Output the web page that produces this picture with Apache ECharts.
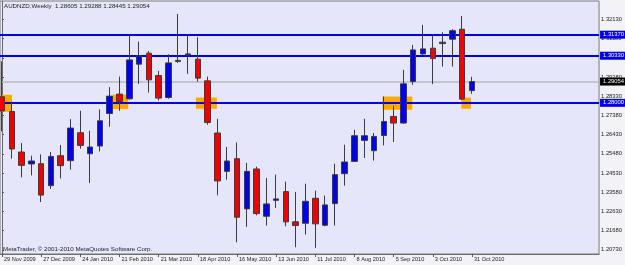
<!DOCTYPE html>
<html>
<head>
<meta charset="utf-8">
<script src="https://cdn.jsdelivr.net/npm/echarts@6/dist/echarts.min.js"></script>
<style>
html, body { margin: 0; padding: 0; background: #f3f3f7; }
#chart { width: 625px; height: 265px; }
</style>
</head>
<body>
<div id="chart"></div>
<script>
// weekly AUDNZD, 29 Nov 2009 .. 31 Oct 2010
const opens  = [1.2830, 1.27573, 1.25569, 1.24977, 1.24992, 1.23906, 1.25387, 1.25140, 1.26522, 1.25485,
                1.25865, 1.27474, 1.28432, 1.28200, 1.29913, 1.30456, 1.29350, 1.28264, 1.30051, 1.30372,
                1.30160, 1.29089, 1.26507, 1.24612, 1.25239, 1.22756, 1.24730, 1.22391, 1.23180, 1.23610,
                1.22114, 1.22045, 1.23279, 1.21946, 1.23018, 1.24498, 1.25105, 1.26142, 1.25634, 1.26389,
                1.27327, 1.27001, 1.29054, 1.30421, 1.30703, 1.30930, 1.31147, 1.31640, 1.28605];
const closes = [1.2760, 1.25717, 1.24908, 1.25125, 1.23437, 1.25352, 1.24893, 1.26754, 1.25895, 1.25816,
                1.27114, 1.28333, 1.28067, 1.30125, 1.30322, 1.29138, 1.28235, 1.29977, 1.30100, 1.30421,
                1.29222, 1.27030, 1.24138, 1.25125, 1.22341, 1.24612, 1.22524, 1.23003, 1.23250, 1.22114,
                1.21932, 1.23131, 1.22016, 1.22953, 1.24449, 1.25076, 1.26374, 1.26374, 1.26339, 1.27080,
                1.27001, 1.28940, 1.30619, 1.30668, 1.30189, 1.30999, 1.31571, 1.28185, 1.29054];
const lows   = [1.2659, 1.25239, 1.24316, 1.24414, 1.23092, 1.23743, 1.24266, 1.24696, 1.25732, 1.24039,
                1.25599, 1.26818, 1.27608, 1.28151, 1.28940, 1.28511, 1.28116, 1.28200, 1.29977, 1.29434,
                1.29054, 1.26917, 1.23427, 1.24202, 1.21108, 1.21868, 1.22440, 1.21932, 1.22805, 1.21897,
                1.20861, 1.21488, 1.20831, 1.21897, 1.21932, 1.23906, 1.25105, 1.25273, 1.25140, 1.25895,
                1.26063, 1.26966, 1.28891, 1.30372, 1.28926, 1.29794, 1.29794, 1.28151, 1.28445];
const highs  = [1.3005, 1.28067, 1.26014, 1.25387, 1.25451, 1.25569, 1.25915, 1.27198, 1.27608, 1.26621,
                1.27672, 1.28778, 1.29301, 1.31359, 1.31028, 1.30569, 1.29582, 1.30406, 1.32396, 1.31310,
                1.31245, 1.29301, 1.27213, 1.25816, 1.26043, 1.25026, 1.24844, 1.24286, 1.24449, 1.24103,
                1.23595, 1.24005, 1.23659, 1.23412, 1.24992, 1.25930, 1.26670, 1.27213, 1.26507, 1.28314,
                1.27855, 1.29631, 1.30865, 1.31853, 1.31310, 1.31492, 1.31640, 1.32297, 1.29288];

// one date label every 4 bars
const dateLabels = ['29 Nov 2009', '27 Dec 2009', '24 Jan 2010', '21 Feb 2010', '21 Mar 2010',
                    '18 Apr 2010', '16 May 2010', '13 Jun 2010', '11 Jul 2010', '8 Aug 2010',
                    '5 Sep 2010', '3 Oct 2010', '31 Oct 2010'];
const priceTicks = [1.20730, 1.21680, 1.22630, 1.23580, 1.24530, 1.25480, 1.26430,
                    1.27380, 1.28330, 1.29280, 1.30230, 1.31180, 1.32130];

// horizontal levels and the last bid
const levels = [1.31370, 1.30330, 1.28000];
const lastPrice = 1.29054;

// orange zones: bar index from/to, price top/bottom
const zoneFrom   = [0, 11.3, 19.8, 38.85, 46.9];
const zoneTo     = [1.02, 12.9, 21.95, 41.9, 47.9];
const zoneTop    = [1.28398, 1.28412, 1.28264, 1.28314, 1.28264];
const zoneBottom = [1.27558, 1.27692, 1.27707, 1.27657, 1.27707];

const FONT = 'Liberation Sans';
const FS = 5.6;

let candles = opens.map((o, i) => [i, o, closes[i], lows[i], highs[i]]);
let tickIdx = dateLabels.map((d, i) => i * 4);
let zones = zoneFrom.map((x0, i) => [
  { coord: [x0, zoneTop[i]] },
  { coord: [zoneTo[i], zoneBottom[i]] }
]);

let myChart = echarts.init(document.getElementById('chart'));
myChart.setOption({
  animation: false,
  backgroundColor: '#f3f3f7',
  textStyle: { fontFamily: FONT },
  title: [{
    text: 'AUDNZD,Weekly  1.28605 1.29288 1.28445 1.29054',
    left: 4, top: 3, padding: 0,
    textStyle: { fontSize: 6.2, fontWeight: 'normal', color: '#222', fontFamily: FONT }
  }, {
    text: 'MetaTrader, © 2001-2010 MetaQuotes Software Corp.',
    left: 3, top: 246, padding: 0,
    textStyle: { fontSize: 6.2, fontWeight: 'normal', color: '#222', fontFamily: FONT }
  }],
  grid: {
    left: 0, top: 1, right: 23, bottom: 11,
    show: true, backgroundColor: '#e6e6fa', borderColor: '#7a7a7a', borderWidth: 1
  },
  xAxis: {
    type: 'value', min: -0.2033, max: 60.9756,
    splitLine: { show: false },
    axisLine: { show: true, lineStyle: { color: '#6e6e6e' } },
    axisTick: { show: true, customValues: tickIdx, length: 3, lineStyle: { color: '#555' } },
    axisLabel: {
      customValues: tickIdx, align: 'left', margin: 2, padding: [0, 0, 0, 2],
      fontSize: FS, color: '#222',
      formatter: v => dateLabels[Math.round(v / 4)] || ''
    }
  },
  yAxis: {
    type: 'value', position: 'right', min: 1.20525, max: 1.33037,
    splitLine: { show: false },
    axisLine: { show: true, lineStyle: { color: '#6e6e6e' } },
    axisTick: { show: true, customValues: priceTicks, length: 2, lineStyle: { color: '#555' } },
    axisLabel: {
      customValues: priceTicks, margin: 2, padding: [0, 0, 4, 0],
      fontSize: 5.8, color: '#222',
      formatter: v => v.toFixed(5)
    }
  },
  series: [{
    // zones and level lines sit behind the candles
    type: 'line', data: [], silent: true,
    markArea: {
      silent: true, z: 1,
      itemStyle: { color: '#ffaa00', opacity: 1 },
      data: zones
    },
    markLine: {
      silent: true, z: 1, symbol: 'none', precision: 5,
      data: [
        ...levels.map(v => ({
          yAxis: v,
          lineStyle: { color: '#0000e6', width: 2, type: 'solid' },
          label: { backgroundColor: '#0000e6', color: '#fff' }
        })),
        {
          yAxis: lastPrice,
          lineStyle: { color: '#b8b8c0', width: 1.5, type: 'solid' },
          label: { backgroundColor: '#000', color: '#fff' }
        }
      ],
      label: {
        position: 'end', distance: 1, fontSize: 5.8, fontFamily: FONT,
        padding: [1, 4, 1, 3], formatter: p => p.value.toFixed(5)
      }
    }
  }, {
    type: 'candlestick',
    z: 3,
    barWidth: 6,
    dimensions: ['idx', 'open', 'close', 'lowest', 'highest'],
    encode: { x: 'idx', y: ['open', 'close', 'lowest', 'highest'] },
    itemStyle: {
      color: '#0000f0', color0: '#f00000',
      borderColor: '#3c3c3c', borderColor0: '#3c3c3c', borderWidth: 1
    },
    data: candles
  }]
});
</script>
</body>
</html>
